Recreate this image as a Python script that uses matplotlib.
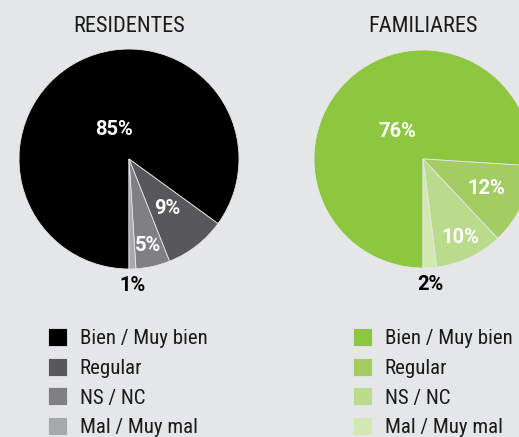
import matplotlib
matplotlib.use("Agg")
import matplotlib.pyplot as plt
import numpy as np

# data
categories = ["Bien / Muy bien", "Regular", "NS / NC", "Mal / Muy mal"]
residentes = [85, 9, 5, 1]
familiares = [76, 12, 10, 2]

res_colors = ["#000000", "#58585a", "#808083", "#a7a8ab"]
fam_colors = ["#8dc63f", "#a3cd62", "#bbdb8c", "#d3e7b2"]

# radial position of each label, as fraction of radius
res_label_r = [0.30, 0.57, 0.81, 1.15]
fam_label_r = [0.34, 0.64, 0.80, 1.15]

bg = "#e5e6e8"
W, H = 519, 437
FONT = ["Roboto Condensed", "DejaVu Sans"]
BOLD = ["Roboto", "DejaVu Sans"]

fig = plt.figure(figsize=(W / 100, H / 100), dpi=100, facecolor=bg)
ax = fig.add_axes([0, 0, 1, 1])
ax.set_xlim(0, W)
ax.set_ylim(0, H)
ax.set_aspect("equal")
ax.axis("off")


def draw_pie(values, colors, cx, cy, r, title, label_r):
    wedges, _ = ax.pie(values, colors=colors, startangle=-90, counterclock=False,
                       center=(cx, cy), radius=r,
                       wedgeprops=dict(linewidth=0.6, edgecolor=bg))
    for w, v, lr in zip(wedges, values, label_r):
        ang = np.deg2rad((w.theta1 + w.theta2) / 2)
        tx = cx + lr * r * np.cos(ang)
        ty = cy + lr * r * np.sin(ang)
        col = "black" if lr > 1 else "white"
        ax.text(tx, ty, f"{v}%", color=col, fontsize=14.5, fontweight="bold",
                ha="center", va="center", family=BOLD)
    ax.text(cx, H - 27, title, fontsize=16, ha="center", va="center",
            color="#1a1a1a", family=FONT)
    return wedges


w1 = draw_pie(residentes, res_colors, 129, H - 159, 110, "RESIDENTES", res_label_r)
w2 = draw_pie(familiares, fam_colors, 423, H - 159, 109, "FAMILIARES", fam_label_r)
ax.set_xlim(0, W)
ax.set_ylim(0, H)

for wedges, x0 in [(w1, 48), (w2, 353)]:
    leg = fig.legend(wedges, categories, loc="upper left",
                     bbox_to_anchor=(x0 / W, 1 - 328 / H),
                     frameon=False, borderpad=0, borderaxespad=0,
                     handlelength=0.9, handleheight=0.95, handletextpad=0.62,
                     labelspacing=0.46, prop=dict(family=FONT, size=15))
    for t in leg.get_texts():
        t.set_color("#1a1a1a")

fig.savefig("out.png", dpi=100, facecolor=bg)
